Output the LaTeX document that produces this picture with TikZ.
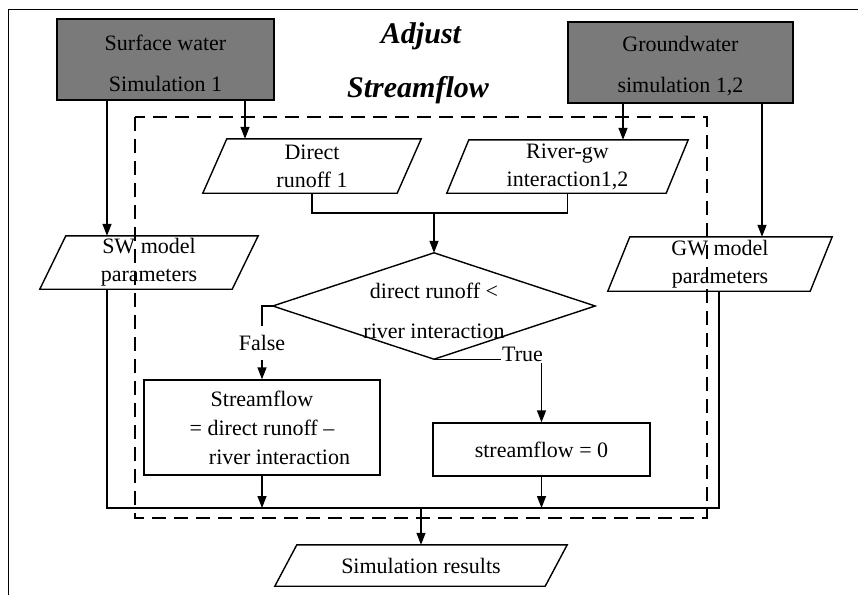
\documentclass[tikz,border=0pt]{standalone}
\usepackage{fontspec}
\setmainfont{Liberation Serif}
\usetikzlibrary{arrows.meta,calc}
\definecolor{boxgray}{RGB}{122,122,122}
\tikzset{
  every node/.style={font=\fontsize{22}{28}\selectfont, inner sep=0pt},
  ln/.style={line width=1.4pt},
  arr/.style={ln, -{Triangle[length=12pt,width=9pt]}},
  simbox/.style={draw, ln, fill=boxgray, align=center, font=\fontsize{22}{41}\selectfont},
  procbox/.style={draw, ln, align=center, font=\fontsize{22}{29}\selectfont},
  para/.style={align=center, draw=none},
  decis/.style={align=center, draw=none, font=\fontsize{22}{40}\selectfont},
  ttl/.style={font=\fontsize{30}{30}\selectfont\bfseries\itshape, anchor=base},
  dashbox/.style={draw, line width=1.8pt, dash pattern=on 14pt off 8pt},
  lbl/.style={fill=white, inner sep=1pt}
}
\newcommand{\parashape}[2]{\draw[ln] ([xshift=#2]#1.north west) -- ([xshift=#2]#1.north east) -- ([xshift=-#2]#1.south east) -- ([xshift=-#2]#1.south west) -- cycle;}
\begin{document}
\begin{tikzpicture}[x=1pt,y=-1pt]
\useasboundingbox (0,0) rectangle (858,595);
% outer frame
\draw[line width=1pt] (8,595) -- (8,9) -- (858,9);
% dashed region
\draw[dashbox] (135,117) rectangle (707,518);
% titles
\node[ttl] (t1) at (421,43) {Adjust};
\node[ttl] (t2) at (418,97) {Streamflow};
% simulation boxes
\node[simbox, minimum width=217pt, minimum height=81pt] (sw) at (165.5,59.5) {\rule{0pt}{23pt}Surface water\\Simulation 1};
\node[simbox, minimum width=225pt, minimum height=81pt] (gw) at (680.5,62.5) {\rule{0pt}{23pt}Groundwater\\simulation 1,2};
% parallelograms
\node[para, minimum width=194pt, minimum height=54pt] (dr) at (312,166) {Direct\\runoff 1};
\parashape{dr}{12pt}
\node[para, minimum width=219pt, minimum height=53pt] (rg) at (567.5,166.5) {River-gw\\interaction1,2};
\parashape{rg}{11pt}
\node[para, minimum width=192pt, minimum height=53pt] (swp) at (149,262.5) {SW model\\parameters};
\parashape{swp}{13pt}
\node[para, minimum width=202pt, minimum height=54pt] (gwp) at (720,264) {GW model\\parameters};
\parashape{gwp}{11pt}
\node[para, minimum width=270pt, minimum height=41pt] (sr) at (421,565.5) {Simulation results};
\parashape{sr}{11pt}
% decision
\node[decis, minimum width=322pt, minimum height=106pt] (dec) at (434,306) {\rule{0pt}{26pt}direct runoff <\\river interaction};
\draw[ln] (dec.north) -- (dec.east) -- (dec.south) -- (dec.west) -- cycle;
% process boxes
\node[procbox, minimum width=236pt, minimum height=95pt] (sbox) at (262,427.5) {Streamflow\\= direct runoff –\\\hspace*{35pt}river interaction};
\node[procbox, minimum width=217pt, minimum height=53pt] (zbox) at (541.5,449.5) {streamflow = 0};
% helper coordinates
\coordinate (bl) at (107,508);
\coordinate (br) at (719,508);
\coordinate (xa) at (245,0);
\coordinate (xb) at (623,0);
\coordinate (xc) at (762,0);
\coordinate (mj) at (434,213);
% connectors from simulations
\draw[arr] (sw.south -| bl) -- (swp.north -| bl);
\draw[arr] (sw.south -| xa) -- (dr.north -| xa);
\draw[arr] (gw.south -| xb) -- (rg.north -| xb);
\draw[arr] (gw.south -| xc) -- (gwp.north -| xc);
% join to decision
\draw[ln] (dr.south) |- (mj) -| (rg.south);
\draw[arr] (mj) -- (dec.north);
% branches
\draw[arr] (dec.west) -| node[lbl, pos=0.75, minimum height=34pt] {False} (sbox.north);
\draw[arr] (dec.south) -| node[lbl, pos=0.5, xshift=-19pt, yshift=5pt] {True} (zbox.north);
% collection line
\draw[ln] (swp.south -| bl) -- (bl) -- (br) -- (gwp.south -| br);
\draw[arr] (sbox.south) -- (sbox.south |- bl);
\draw[arr] (zbox.south) -- (zbox.south |- bl);
\draw[arr] (sr.north |- bl) -- (sr.north);
\end{tikzpicture}
\end{document}
